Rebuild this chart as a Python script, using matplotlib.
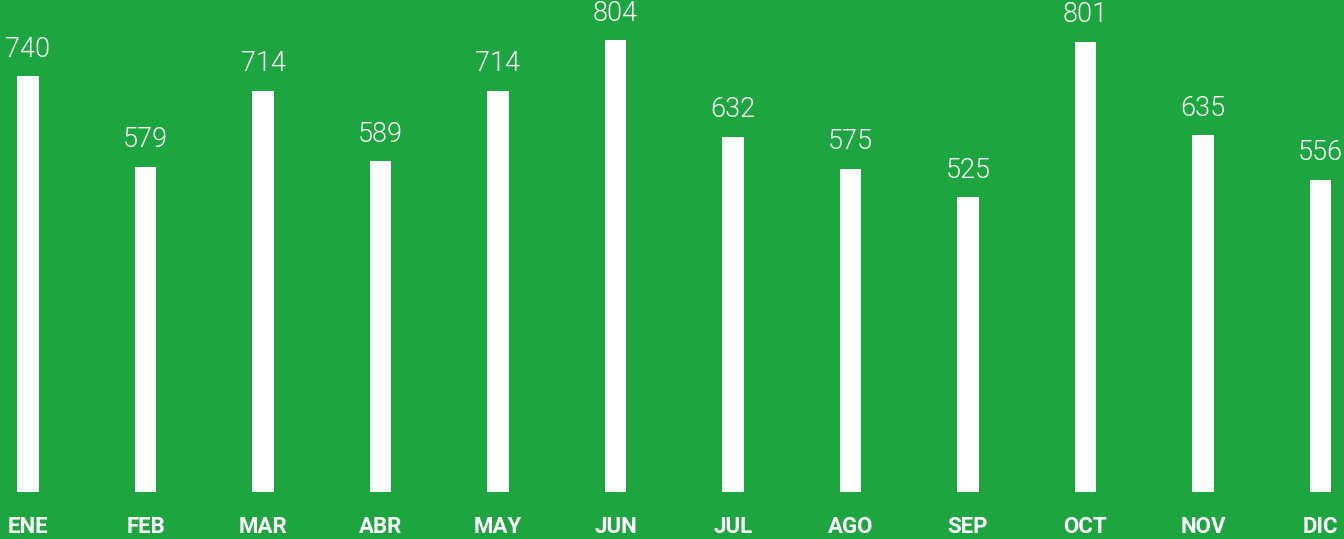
import matplotlib
matplotlib.use("Agg")
import matplotlib.pyplot as plt
import matplotlib.transforms as mtransforms
import numpy as np

months = ["ENE", "FEB", "MAR", "ABR", "MAY", "JUN", "JUL", "AGO", "SEP", "OCT", "NOV", "DIC"]
values = [740, 579, 714, 589, 714, 804, 632, 575, 525, 801, 635, 556]

green = "#1DA53F"

fig = plt.figure(figsize=(13.44, 5.39), dpi=100, facecolor=green)
ax = fig.add_axes([0, 0, 1, 1])
ax.set_facecolor(green)

x = np.arange(len(months))
ax.bar(x, values, width=0.187, color="white")

# pixel layout: bar centers at 28 + 117.5*i, baseline 47px from bottom
ax.set_xlim(-28 / 117.5, -28 / 117.5 + 1344 / 117.5)
scale = 0.562
ax.set_ylim(-47 / scale, (539 - 47) / scale)

for xi, v in zip(x, values):
    ax.annotate(str(v), (xi, v), xytext=(0, 14), textcoords="offset points",
                ha="center", va="baseline", color="white", fontsize=19.5,
                family="Roboto", fontweight=300)

trans = mtransforms.blended_transform_factory(ax.transData, fig.transFigure)
for xi, m in zip(x, months):
    ax.text(xi, 6 / 539, m, transform=trans, ha="center", va="baseline",
            color="white", fontsize=16, family="Roboto", fontweight="bold")

ax.axis("off")
fig.savefig("out.png", dpi=100, facecolor=green)
